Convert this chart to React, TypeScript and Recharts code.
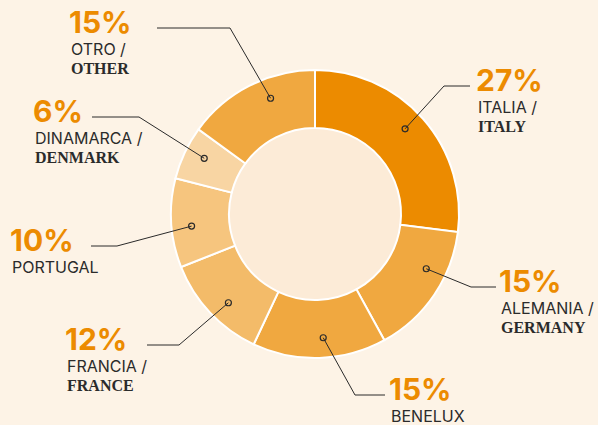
import { PieChart, Pie, Cell } from 'recharts';

// share of exports by destination, clockwise from 12 o'clock
const countries = ['ITALIA /', 'ALEMANIA /', 'BENELUX', 'FRANCIA /', 'PORTUGAL', 'DINAMARCA /', 'OTRO /'];
const countriesEn = ['ITALY', 'GERMANY', '', 'FRANCE', '', 'DENMARK', 'OTHER'];
const shares = [27, 15, 15, 12, 10, 6, 15];

const sliceColors = ['#EC8B00', '#F0A840', '#F0A840', '#F3BB69', '#F6C57E', '#F8D5A3', '#F0A840'];

// where each callout ends up (dot angle nudge, elbow x, line end x, text x, percent baseline)
const callouts = [
  { nudge: 2, elbowX: 444, endX: 470, textX: 476, baseY: 91 },
  { nudge: 8, elbowX: 471, endX: 496, textX: 499, baseY: 292 },
  { nudge: 2, elbowX: 355, endX: 385, textX: 389, baseY: 400 },
  { nudge: 2.5, elbowX: 179, endX: 147, textX: 65, baseY: 350 },
  { nudge: 2, elbowX: 117, endX: 91, textX: 10, baseY: 251 },
  { nudge: -1.5, elbowX: 139, endX: 92, textX: 33, baseY: 122 },
  { nudge: -6, elbowX: 230, endX: 157, textX: 69, baseY: 33 },
];

const data = countries.map((name, i) => ({ name, en: countriesEn[i], value: shares[i] }));

const RAD = Math.PI / 180;

function Callout(props: any) {
  const { cx, cy, midAngle, innerRadius, outerRadius, index } = props;
  const c = callouts[index];
  const r = (innerRadius + outerRadius) / 2 + 9;
  const a = (midAngle + c.nudge) * RAD;
  const dx = cx + r * Math.cos(-a);
  const dy = cy + r * Math.sin(-a);
  const lineY = c.baseY - 5;
  const d = data[index];
  return (
    <g>
      <polyline
        points={`${dx},${dy} ${c.elbowX},${lineY} ${c.endX},${lineY}`}
        fill="none"
        stroke="#2a2a2a"
        strokeWidth={1}
      />
      <circle cx={dx} cy={dy} r={3} fill="none" stroke="#2a2a2a" strokeWidth={1.2} />
      <text x={c.textX} y={c.baseY} fill="#EC8B00" fontFamily="Inter, sans-serif" fontWeight={700} fontSize={30}>
        {d.value}%
      </text>
      <text x={c.textX + 2} y={c.baseY + 22} fill="#2b2b2b" fontFamily="Inter, sans-serif" fontSize={16}>
        {d.name}
      </text>
      {d.en && (
        <text x={c.textX + 2} y={c.baseY + 41} fill="#2b2b2b" fontFamily="'Liberation Serif', serif" fontWeight={700} fontSize={16}>
          {d.en}
        </text>
      )}
    </g>
  );
}

export default function App() {
  return (
    <div style={{ width: 598, height: 425, background: '#FDF3E6' }}>
      <style>{'body{margin:0}'}</style>
      <PieChart width={598} height={425} margin={{ top: 0, right: 0, bottom: 0, left: 0 }}>
        <Pie
          data={[{ value: 1 }]}
          dataKey="value"
          cx={315}
          cy={214}
          innerRadius={0}
          outerRadius={86}
          fill="#FCEBD7"
          stroke="none"
          isAnimationActive={false}
        />
        <Pie
          data={data}
          dataKey="value"
          cx={315}
          cy={214}
          innerRadius={86}
          outerRadius={144}
          startAngle={90}
          endAngle={-270}
          stroke="#ffffff"
          strokeWidth={2}
          label={Callout}
          labelLine={false}
          isAnimationActive={false}
        >
          {data.map((d, i) => (
            <Cell key={d.name} fill={sliceColors[i]} />
          ))}
        </Pie>
      </PieChart>
    </div>
  );
}
